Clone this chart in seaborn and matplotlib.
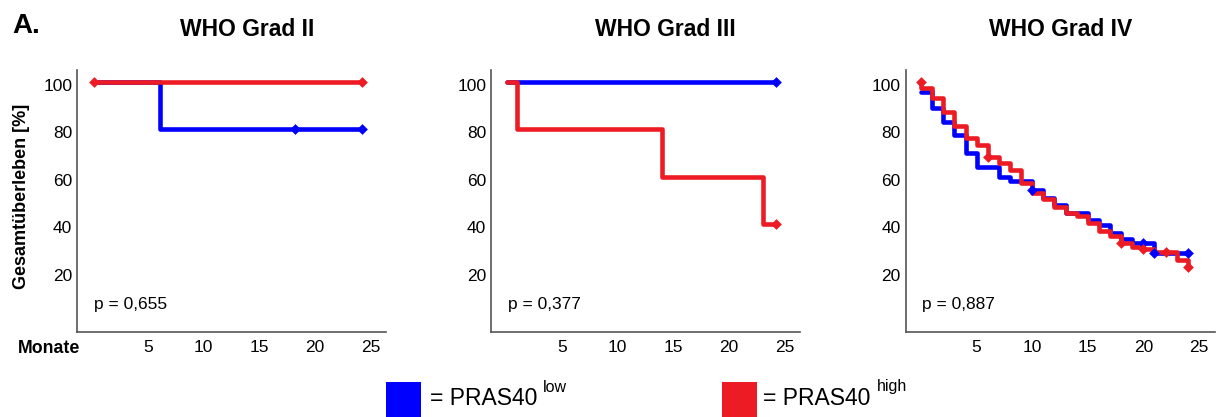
import matplotlib
matplotlib.use("Agg")
import matplotlib.pyplot as plt
import matplotlib.transforms as mtransforms
import seaborn as sns
from matplotlib.patches import Rectangle

# ---------------- data ----------------
titles = ["WHO Grad II", "WHO Grad III", "WHO Grad IV"]
p_values = ["p = 0,655", "p = 0,377", "p = 0,887"]
x_ticks = [5, 10, 15, 20, 25]
y_ticks = [20, 40, 60, 80, 100]
legend_labels = ["= PRAS40", "= PRAS40"]
legend_sups = ["low", "high"]

# WHO Grad II
g2_low_t = [0, 6.1, 24.2]
g2_low_s = [100, 80, 80]
g2_low_cens_t = [18.2, 24.2]
g2_low_cens_s = [80, 80]
g2_high_t = [0, 24.2]
g2_high_s = [100, 100]
g2_high_cens_t = [0.1, 24.2]
g2_high_cens_s = [100, 100]

# WHO Grad III
g3_low_t = [0, 24.2]
g3_low_s = [100, 100]
g3_low_cens_t = [24.2]
g3_low_cens_s = [100]
g3_high_t = [0, 0.9, 14.0, 23.1, 24.2]
g3_high_s = [100, 80, 60, 40, 40]
g3_high_cens_t = [24.2]
g3_high_cens_s = [40]

# WHO Grad IV
g4_low_t = [0, 1, 2, 3, 4, 5, 7, 8, 10, 11, 12, 13, 15, 16, 17, 18, 19, 21, 24]
g4_low_s = [95.5, 89, 83, 77.5, 70, 64.3, 60, 58.3, 54.4, 51, 48.3, 44.8, 42,
            39.7, 36.2, 33.8, 32.3, 27.8, 27.8]
g4_low_cens_t = [10, 20, 21, 24]
g4_low_cens_s = [54.4, 32.3, 27.8, 27.8]
g4_high_t = [0, 0, 1, 2, 3, 4, 5, 6, 7, 8, 9, 10, 11, 12, 13, 14, 15, 16, 17,
             18, 19, 20, 21, 23, 24]
g4_high_s = [100, 97.2, 93, 87.4, 81.4, 76.2, 73.4, 68.5, 66, 62.9, 57.3, 53.1,
             50.6, 47.5, 45, 43.7, 40.5, 37.2, 35, 32.3, 30.7, 29.5, 28.4, 25.1,
             22.3]
g4_high_cens_t = [0, 6, 18, 20, 22, 24]
g4_high_cens_s = [100, 68.5, 32.3, 29.8, 28.4, 22.3]

panels = [
    (g2_low_t, g2_low_s, g2_low_cens_t, g2_low_cens_s,
     g2_high_t, g2_high_s, g2_high_cens_t, g2_high_cens_s),
    (g3_low_t, g3_low_s, g3_low_cens_t, g3_low_cens_s,
     g3_high_t, g3_high_s, g3_high_cens_t, g3_high_cens_s),
    (g4_low_t, g4_low_s, g4_low_cens_t, g4_low_cens_s,
     g4_high_t, g4_high_s, g4_high_cens_t, g4_high_cens_s),
]

# ---------------- style ----------------
BLUE = "#0000FF"
RED = "#ED1C24"
SPINE = "#555555"
TXT = "#000000"

sns.set_theme(style="white")
plt.rcParams["font.family"] = ["Liberation Sans", "DejaVu Sans"]
plt.rcParams["text.color"] = TXT
plt.rcParams["xtick.color"] = TXT
plt.rcParams["ytick.color"] = TXT

W, H = 1224, 417
fig = plt.figure(figsize=(W / 100, H / 100), dpi=100)

ax_lefts = [77, 491, 905.5]
ax_width = 309
ax_top, ax_bottom = 70, 332
title_x = [247, 665, 1061]

for i, (lt, ls, lct, lcs, ht, hs, hct, hcs) in enumerate(panels):
    ax = fig.add_axes([ax_lefts[i] / W, 1 - ax_bottom / H, ax_width / W,
                       (ax_bottom - ax_top) / H])
    lw = 3.3
    sns.lineplot(x=lt, y=ls, color=BLUE, estimator=None, sort=False,
                 drawstyle="steps-post", linewidth=lw, ax=ax)
    sns.scatterplot(x=lct, y=lcs, color=BLUE, marker="D", s=30, linewidth=0,
                    ax=ax, zorder=3)
    sns.lineplot(x=ht, y=hs, color=RED, estimator=None, sort=False,
                 drawstyle="steps-post", linewidth=lw, ax=ax)
    sns.scatterplot(x=hct, y=hcs, color=RED, marker="D", s=30, linewidth=0,
                    ax=ax, zorder=4)

    ax.set_xlim(-1.4, 26.4)
    ax.set_ylim(-5.2, 104.9)
    ax.set_xticks(x_ticks)
    ax.set_yticks(y_ticks)
    ax.set_xticklabels([str(t) for t in x_ticks])
    ax.set_yticklabels([str(t) for t in y_ticks])
    ax.tick_params(axis="x", length=0, pad=6, labelsize=12.5, labelcolor=TXT)
    ax.tick_params(axis="y", length=0, pad=3.5, labelsize=12.5, labelcolor=TXT)
    shift = mtransforms.ScaledTranslation(0, -3 / 100, fig.dpi_scale_trans)
    for lab in ax.get_yticklabels():
        lab.set_transform(lab.get_transform() + shift)
    ax.set_xlabel("")
    ax.set_ylabel("")
    for side in ["top", "right"]:
        ax.spines[side].set_visible(False)
    for side in ["left", "bottom"]:
        ax.spines[side].set_color(SPINE)
        ax.spines[side].set_linewidth(1.2)
    ax.grid(False)

    ax.text(0.1, 4.3, p_values[i], fontsize=12.5, ha="left", va="baseline",
            color=TXT)

    fig.text(title_x[i] / W, 1 - 36.5 / H, titles[i], fontsize=16.5,
             fontweight="bold", ha="center", va="baseline", color=TXT)

# panel letter, axis labels
fig.text(12.5 / W, 1 - 33 / H, "A.", fontsize=20, fontweight="bold",
         ha="left", va="baseline", color=TXT)
fig.text(21.5 / W, 1 - 196 / H, "Gesamtüberleben [%]", fontsize=13,
         fontweight="bold", rotation=90, ha="center", va="center", color=TXT)
fig.text(18 / W, 1 - 353 / H, "Monate", fontsize=12.8, fontweight="bold",
         ha="left", va="baseline", color=TXT)

# legend
leg_colors = [BLUE, RED]
sq_x = [386, 721.5]
txt_x = [430, 763]
sup_x = [543, 876.5]
for k in range(2):
    fig.add_artist(Rectangle((sq_x[k] / W, 0), 35 / W, 35 / H,
                             transform=fig.transFigure, facecolor=leg_colors[k],
                             edgecolor="none"))
    fig.text(txt_x[k] / W, 1 - 405 / H, legend_labels[k], fontsize=16.5,
             ha="left", va="baseline", color=TXT)
    fig.text(sup_x[k] / W, 1 - 391.5 / H, legend_sups[k], fontsize=11.5,
             ha="left", va="baseline", color=TXT)

fig.savefig("out.png", dpi=100, facecolor="white")
